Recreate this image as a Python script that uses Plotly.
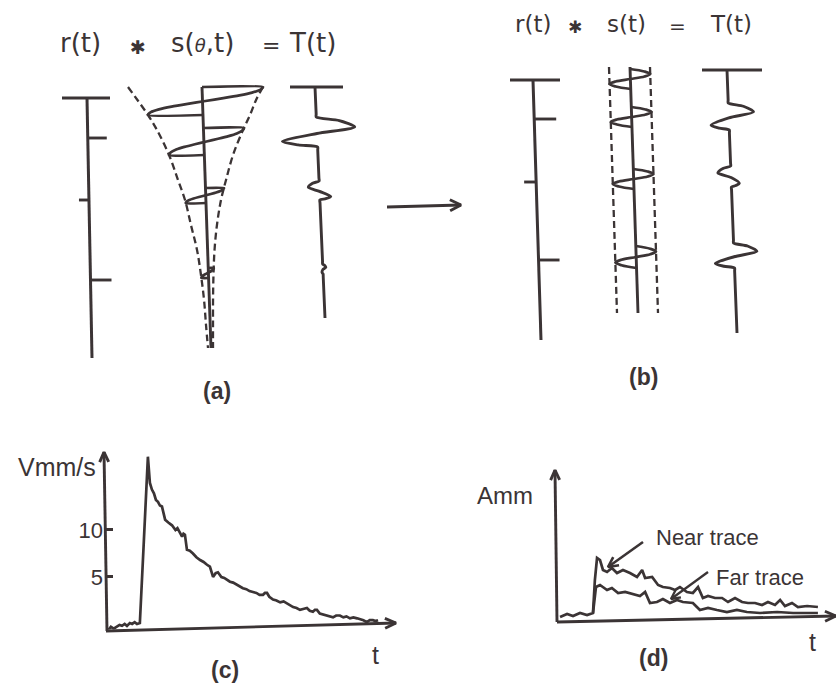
import numpy as np
import plotly.graph_objects as go

W, H = 836, 683
INK = "#3b3435"
FONT = "Liberation Sans"
TFONT = "DejaVu Sans"

# ======================= DATA =======================
# ---- (a) r(t): reflections (time down the trace, reflection coefficient as spike length)
A_R_TIMES = [138, 200, 280]
A_R_COEFS = [19, -10, 21]
# ---- (a) s(theta,t): attenuation envelope (time, left / right half-width)
A_ENV_T = [87, 100, 115, 130, 155, 180, 200, 225, 250, 275, 300, 325, 348]
A_ENV_WL = [74, 65, 55, 46.5, 35.3, 27.2, 20.9, 15.8, 10.6, 7.5, 5.3, 4.2, 3.0]
A_ENV_WR = [61, 53.6, 47, 39.5, 28.7, 20.8, 15.1, 10.2, 6.9, 5.0, 3.7, 2.8, 2.0]
A_S_STARTS = [87, 128, 188, 268]
A_S_DURS = [28, 27, 15, 10]
# ---- (a) T(t): events (start, duration, first lobe, second lobe)
A_T_STARTS = [117, 181, 264]
A_T_DURS = [30, 19, 10]
A_T_LOBE1 = [38, -11, 3]
A_T_LOBE2 = [-35, 11, -1]

# ---- (b) r(t)
B_R_TIMES = [119, 182, 260]
B_R_COEFS = [22, -12, 21]
# ---- (b) s(t): stationary wavelet, constant envelope half-widths
B_ENV_WL, B_ENV_WR = 21, 20
B_S_STARTS = [69, 107, 169, 246]
B_S_DURS = [20, 20, 20, 22]
# ---- (b) T(t)
B_T_STARTS = [103, 166, 243]
B_T_DURS = [27, 21, 25]
B_T_LOBE1 = [25, -13, 23]
B_T_LOBE2 = [-18, 8, -19]

# ---- (c) particle velocity decay
C_T = [0.00, 0.10, 0.20, 0.31, 0.40, 0.49, 0.58, 0.66, 0.76, 0.84, 0.93, 1.01, 1.11,
       1.25, 1.39, 1.46, 1.53, 1.60, 1.67, 1.74, 1.81, 1.88, 1.94, 1.99, 2.10, 2.23,
       2.35, 2.42, 2.51, 2.58, 2.63, 2.68, 2.75, 2.85, 2.96, 3.08, 3.21, 3.33, 3.45,
       3.55, 3.66, 3.75, 3.83, 3.95, 4.05, 4.15, 4.25, 4.36, 4.48, 4.58, 4.70, 4.82,
       4.93, 5.05, 5.17, 5.28, 5.40, 5.47, 5.54, 5.62, 5.75, 5.87, 6.00, 6.12, 6.24,
       6.35, 6.45, 6.57, 6.69, 6.80, 6.93, 7.03, 7.14, 7.21, 7.28, 7.38, 7.49, 7.62,
       7.72, 7.84, 7.95, 8.08, 8.20, 8.31, 8.43, 8.55, 8.68, 8.80, 8.90, 9.02, 9.12,
       9.23, 9.32, 9.41]
C_V = [-0.7, -0.3, -0.5, -0.3, -0.1, -0.2, 0.0, -0.2, 0.1, 0.0, 0.2, 0.0, 0.1,
       8.9, 17.8, 15.0, 14.3, 13.9, 13.2, 13.0, 12.6, 12.5, 11.6, 11.1, 10.8, 10.5,
       10.0, 10.2, 9.7, 9.3, 9.6, 9.5, 7.9, 7.8, 7.5, 7.1, 6.8, 6.6, 6.3,
       6.1, 5.0, 5.4, 5.5, 5.0, 4.9, 4.7, 4.5, 4.4, 4.2, 4.0, 3.8, 3.7,
       3.5, 3.4, 3.3, 3.1, 3.1, 3.3, 3.3, 2.9, 2.6, 2.5, 2.3, 2.4, 2.2,
       2.0, 1.8, 1.7, 1.5, 1.6, 1.7, 1.4, 1.3, 1.5, 1.5, 1.1, 1.0, 0.9,
       0.8, 0.7, 0.9, 0.9, 0.7, 0.8, 0.6, 0.7, 0.6, 0.5, 0.4, 0.2, 0.4,
       0.4, 0.3, 0.4]
C_TICKS = [5, 10]

# ---- (d) near / far trace amplitudes
D_T_NEAR = [0.15, 0.41, 0.63, 0.89, 1.15, 1.37, 1.44, 1.52, 1.63, 1.74, 1.89, 2.07, 2.26,
            2.48, 2.74, 3.00, 3.19, 3.30, 3.56, 3.78, 3.96, 4.22, 4.41, 4.59, 4.85, 5.07,
            5.26, 5.44, 5.63, 5.89, 6.15, 6.37, 6.63, 6.89, 7.11, 7.37, 7.63, 7.85, 8.11,
            8.30, 8.48, 8.74, 8.96, 9.30, 9.70]
D_A_NEAR = [0.3, 0.6, 0.4, 0.7, 0.5, 0.7, 4.0, 6.2, 6.0, 5.0, 4.8, 5.2, 4.7,
            5.0, 4.7, 4.3, 5.0, 4.2, 4.3, 3.5, 3.3, 3.2, 3.0, 3.3, 2.8, 2.7,
            3.3, 2.2, 2.4, 2.2, 2.2, 1.8, 2.2, 1.8, 1.7, 1.7, 1.5, 1.8, 1.5,
            2.0, 1.4, 1.7, 1.3, 1.4, 1.3]
D_T_FAR = [1.37, 1.48, 1.63, 1.89, 2.07, 2.30, 2.56, 2.85, 3.11, 3.30, 3.48, 3.74, 3.96,
           4.22, 4.48, 4.70, 5.07, 5.33, 5.63, 5.96, 6.33, 6.70, 7.07, 7.56, 8.19, 8.78, 9.70]
D_A_FAR = [0.7, 3.3, 3.5, 3.0, 3.2, 2.7, 2.8, 2.6, 2.4, 2.8, 1.7, 1.8, 2.1,
           1.7, 2.0, 1.8, 1.7, 1.0, 1.2, 1.0, 0.8, 1.0, 0.8, 0.7, 0.8, 0.7, 0.7]

# ---- wavelet shape templates (normalised)
HALF_COS = [1, .95, .81, .59, .31, 0, -.31, -.59, -.81, -.95, -1]
SINE = [0, .71, 1, .71, 0, -.71, -1, -.71, 0]
TRACE_U = [0, .12, .33, .55, .82, .93, 1]
TRACE_W1 = [0, .6, 1, 0, 0, 0, 0]
TRACE_W2 = [0, 0, 0, 0, 1, .55, 0]

# ======================= LAYOUT GEOMETRY =======================
# column axes: (x at top, x at bottom, top time, bottom time)
COL = {
    "a_r": (87, 92, 98, 358),
    "a_s": (202, 211, 87, 348),
    "a_T": (315, 325, 87, 318),
    "b_r": (533, 541, 80, 340),
    "b_s": (630, 638, 67, 313),
    "b_T": (727, 737, 70, 333),
}
BARS = {"a_r": (62, 110), "a_T": (290, 343), "b_r": (510, 560), "b_T": (702, 762)}

C_BOX = dict(left=106, right=395, bottom=629.6, top=452)
C_XR, C_YR = [-0.07, 10.0], [-0.6, 18.3]
D_BOX = dict(left=556, right=836, bottom=620, top=471)
D_XR, D_YR = [0, 10.37], [0, 14.9]

LW = 2.9


def axx(col, t):
    x0, x1, t0, t1 = COL[col]
    return x0 + (x1 - x0) * (t - t0) / (t1 - t0)


fig = go.Figure()


def line(xs, ys, width=LW, shape="linear", dash=None, smoothing=None, xa="x", ya="y"):
    ln = dict(color=INK, width=width, shape=shape)
    if dash:
        ln["dash"] = dash
    if smoothing is not None:
        ln["smoothing"] = smoothing
    fig.add_trace(go.Scatter(x=xs, y=ys, mode="lines", line=ln, xaxis=xa, yaxis=ya,
                             hoverinfo="skip", showlegend=False))


def vhead(tail, tip, L=11, half=5.5, width=LW):
    d = np.array(tip, float) - np.array(tail, float)
    d /= np.linalg.norm(d)
    p = np.array([-d[1], d[0]])
    back = np.array(tip, float) - L * d
    a, b = back + half * p, back - half * p
    line([a[0], tip[0], b[0]], [a[1], tip[1], b[1]], width=width)


def arrow(tail, tip, width=LW, L=11, half=5.5):
    line([tail[0], tip[0]], [tail[1], tip[1]], width=width)
    vhead(tail, tip, L=L, half=half, width=width)


# ---------- reflectivity columns ----------
def r_column(col, times, coefs):
    x0, x1, t0, t1 = COL[col]
    line([x0, x1], [t0, t1], width=3)
    bl, br = BARS[col]
    line([bl, br], [t0, t0], width=3)
    for t, c in zip(times, coefs):
        line([axx(col, t), axx(col, t) + c], [t, t], width=2.9)


r_column("a_r", A_R_TIMES, A_R_COEFS)
r_column("b_r", B_R_TIMES, B_R_COEFS)


# ---------- output trace columns ----------
def t_column(col, starts, durs, l1, l2):
    x0, x1, t0, t1 = COL[col]
    bl, br = BARS[col]
    line([bl, br], [t0, t0], width=3)
    xs, ys = [axx(col, t0)], [t0]
    for s, d, a1, a2 in zip(starts, durs, l1, l2):
        xs.append(axx(col, s - 3)); ys.append(s - 3)
        for u, w1, w2 in zip(TRACE_U, TRACE_W1, TRACE_W2):
            t = s + u * d
            xs.append(axx(col, t) + a1 * w1 + a2 * w2); ys.append(t)
        xs.append(axx(col, s + d + 3)); ys.append(s + d + 3)
    xs.append(axx(col, t1)); ys.append(t1)
    line(xs, ys, width=LW, shape="spline", smoothing=0.75)


t_column("a_T", A_T_STARTS, A_T_DURS, A_T_LOBE1, A_T_LOBE2)
t_column("b_T", B_T_STARTS, B_T_DURS, B_T_LOBE1, B_T_LOBE2)

# ---------- (a) attenuated wavelet column ----------
x0, x1, t0, t1 = COL["a_s"]
line([x0, x1], [t0, t1], width=LW)
env_l = [axx("a_s", t) - w for t, w in zip(A_ENV_T, A_ENV_WL)]
env_r = [axx("a_s", t) + w for t, w in zip(A_ENV_T, A_ENV_WR)]
line(env_l, A_ENV_T, width=2.3, shape="spline", dash="7px,4px")
line(env_r, A_ENV_T, width=2.3, shape="spline", dash="7px,4px")
for s, d in zip(A_S_STARTS, A_S_DURS):
    e = s + d
    right = axx("a_s", s) + np.interp(s, A_ENV_T, A_ENV_WR)
    left = axx("a_s", e) - np.interp(e, A_ENV_T, A_ENV_WL)
    c, A = (right + left) / 2, (right - left) / 2
    xs = [axx("a_s", s)] + [c + A * v for v in HALF_COS] + [axx("a_s", e)]
    ys = [s] + [s + d * i / (len(HALF_COS) - 1) for i in range(len(HALF_COS))] + [e]
    line(xs, ys, width=2.7, shape="spline", smoothing=0.6)

# ---------- (b) stationary wavelet column ----------
x0, x1, t0, t1 = COL["b_s"]
line([x0, x1], [t0, t1], width=LW)
line([x0 - B_ENV_WL, x1 - B_ENV_WL], [t0, t1], width=2.3, dash="7px,4px")
line([x0 + B_ENV_WR, x1 + B_ENV_WR], [t0, t1], width=2.3, dash="7px,4px")
for s, d in zip(B_S_STARTS, B_S_DURS):
    ts = [s + d * i / (len(SINE) - 1) for i in range(len(SINE))]
    xs = [axx("b_s", t) + (B_ENV_WR if v > 0 else B_ENV_WL) * v for t, v in zip(ts, SINE)]
    line(xs, ts, width=2.7, shape="spline")

# middle arrow
arrow((387, 207), (461, 205))

# ---------- (c) ----------
line(C_T, C_V, width=2.7, xa="x2", ya="y2")
arrow((107, 631), (104, 452), L=10, half=4.5)
arrow((106, 631), (396, 623), L=11, half=5)

# ---------- (d) ----------
line(D_T_NEAR, D_A_NEAR, width=2.7, xa="x3", ya="y3")
line(D_T_FAR, D_A_FAR, width=2.7, xa="x3", ya="y3")
arrow((557, 622), (555, 470), L=10, half=4.5)
arrow((557, 622), (836, 616), L=11, half=5)
arrow((643, 542), (608, 567), width=2.6, L=10, half=5)
arrow((708, 572), (671, 599), width=2.3, L=9, half=4.5)

# ---------- text ----------
ann = []


def text(x, y, s, size=21, family=FONT, xanchor="center", weight="normal"):
    ann.append(dict(x=x, y=y, xref="x", yref="y", text=s, showarrow=False,
                    xanchor=xanchor, yanchor="middle",
                    font=dict(family=family, size=size, color=INK, weight=weight)))


text(80, 43, "r(t)", 26, TFONT)
text(138, 47, "✱", 19, TFONT)
text(202, 43, "s(<i><span style='font-size:18px'>θ</span></i>,t)", 26, TFONT)
text(271, 45, "=", 22, TFONT)
text(312, 43, "T(t)", 26, TFONT)

text(533, 24, "r(t)", 23, TFONT)
text(575, 27, "✱", 17, TFONT)
text(626, 24, "s(t)", 23, TFONT)
text(677, 26, "=", 20, TFONT)
text(731, 24, "T(t)", 23, TFONT)

text(217, 391, "(a)", 23, weight="bold")
text(643, 377, "(b)", 23, weight="bold")
text(225, 670, "(c)", 23, weight="bold")
text(653, 658, "(d)", 23, weight="bold")
text(98, 467, "Vmm/s", 25, xanchor="right")
text(375, 655, "t", 25)
text(812, 642, "t", 25)
text(505, 495, "Amm", 24)
text(707, 537, "Near trace", 22)
text(760, 577, "Far trace", 22)

hidden = dict(visible=False, showgrid=False, zeroline=False, fixedrange=True)
fig.update_layout(
    width=W, height=H,
    margin=dict(l=0, r=0, t=0, b=0),
    paper_bgcolor="white", plot_bgcolor="rgba(0,0,0,0)",
    showlegend=False,
    annotations=ann,
    xaxis=dict(hidden, range=[0, W], domain=[0, 1]),
    yaxis=dict(hidden, range=[H, 0], domain=[0, 1]),
    xaxis2=dict(hidden, range=C_XR, anchor="y2",
                domain=[C_BOX["left"] / W, C_BOX["right"] / W]),
    yaxis2=dict(range=C_YR, anchor="x2", visible=True, showline=False, showgrid=False,
                zeroline=False, fixedrange=True,
                domain=[(H - C_BOX["bottom"]) / H, (H - C_BOX["top"]) / H],
                tickvals=C_TICKS, ticktext=[str(v) for v in C_TICKS],
                ticks="inside", ticklen=7, tickwidth=2.7, tickcolor=INK,
                ticklabelstandoff=2,
                tickfont=dict(family=FONT, size=22, color=INK)),
    xaxis3=dict(hidden, range=D_XR, anchor="y3",
                domain=[D_BOX["left"] / W, D_BOX["right"] / W]),
    yaxis3=dict(hidden, range=D_YR, anchor="x3",
                domain=[(H - D_BOX["bottom"]) / H, (H - D_BOX["top"]) / H]),
)

fig.write_html("out.html")
